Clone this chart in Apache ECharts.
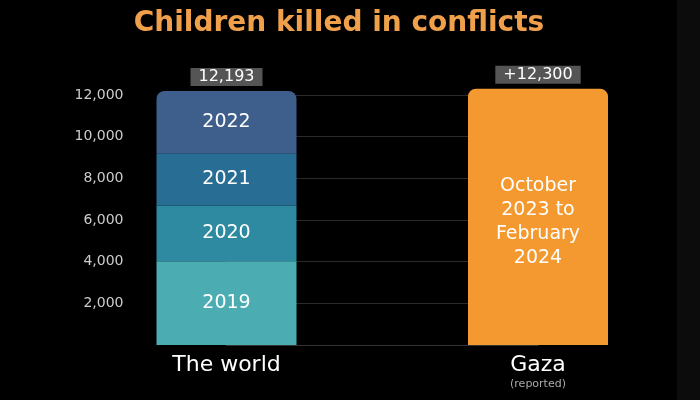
<!DOCTYPE html>
<html>
<head>
<meta charset="utf-8">
<script src="https://cdn.jsdelivr.net/npm/echarts@6/dist/echarts.min.js"></script>
<style>html,body{margin:0;padding:0;background:#000;}#c{width:700px;height:400px;}</style>
</head>
<body>
<div id="c"></div>
<script>
const categories = ['The world', 'Gaza'];
const years = ['2019', '2020', '2021', '2022'];
const worldByYear = [4019, 2674, 2515, 2985];
const gazaValue = 12300;
const gazaText = 'October\n2023 to\nFebruary\n2024';
const yMin = 0, yMax = 12000, yStep = 2000;

const yearColors = ['#4BADB2', '#2D8AA0', '#286E94', '#3E5E8C'];
const FONT = 'DejaVu Sans';
const worldTotal = worldByYear.reduce((a, b) => a + b, 0);
const fmt = v => v.toLocaleString('en-US');

const series = years.map((y, i) => ({
  name: y,
  type: 'bar',
  stack: 'all',
  clip: false,
  barWidth: 140,
  data: [worldByYear[i], '-'],
  itemStyle: { color: yearColors[i], borderRadius: i === years.length - 1 ? [8, 8, 0, 0] : 0 },
  label: { show: true, position: 'inside', formatter: y, color: '#fff', fontSize: 19, fontFamily: FONT }
}));
series.push({
  name: 'Gaza',
  type: 'bar',
  stack: 'all',
  clip: false,
  barWidth: 140,
  data: ['-', gazaValue],
  itemStyle: { color: '#F4992F', borderRadius: [8, 8, 0, 0] },
  label: { show: true, position: 'inside', offset: [0, 5], formatter: gazaText, color: '#fff', fontSize: 19, lineHeight: 24, fontFamily: FONT }
});
const topLabels = [fmt(worldTotal), '+' + fmt(gazaValue)];
series.push({
  name: 'totals',
  type: 'bar',
  stack: 'all',
  clip: false,
  barWidth: 140,
  data: [0, 0],
  itemStyle: { color: 'transparent' },
  label: {
    show: true, position: 'top', distance: 5,
    formatter: p => topLabels[p.dataIndex],
    color: '#fff', fontSize: 16, lineHeight: 16, fontFamily: FONT,
    backgroundColor: '#555', padding: [1, 8]
  }
});

const chart = echarts.init(document.getElementById('c'));
chart.setOption({
  backgroundColor: '#000',
  animation: false,
  title: {
    text: 'Children killed in conflicts',
    left: 334, top: 5, textAlign: 'center',
    textStyle: { color: '#F0A04B', fontSize: 28, fontWeight: 'bold', fontFamily: FONT }
  },
  graphic: [{ type: 'rect', shape: { x: 677, y: 0, width: 23, height: 400 }, style: { fill: '#0c0c0c' }, z: -1 }],
  grid: { left: 226.5, right: 162, top: 95, bottom: 55 },
  xAxis: {
    type: 'category',
    data: categories,
    boundaryGap: false,
    axisLine: { lineStyle: { color: '#333' } },
    axisTick: { show: false },
    axisLabel: {
      margin: 8,
      color: '#fff', fontSize: 22, fontFamily: FONT,
      formatter: v => v === 'Gaza' ? '{a|Gaza}\n{b|(reported)}' : '{a|' + v + '}',
      rich: {
        a: { color: '#fff', fontSize: 22, fontFamily: FONT, lineHeight: 24 },
        b: { color: '#aaa', fontSize: 11, fontFamily: FONT, lineHeight: 14 }
      }
    }
  },
  yAxis: {
    type: 'value',
    min: yMin, max: yMax, interval: yStep,
    axisLine: { show: false },
    axisTick: { show: false },
    splitLine: { lineStyle: { color: '#2a2a2a' } },
    axisLabel: {
      margin: 103,
      color: '#ccc', fontSize: 14, fontFamily: FONT,
      formatter: v => v === 0 ? '' : fmt(v)
    }
  },
  series: series
});
</script>
</body>
</html>
